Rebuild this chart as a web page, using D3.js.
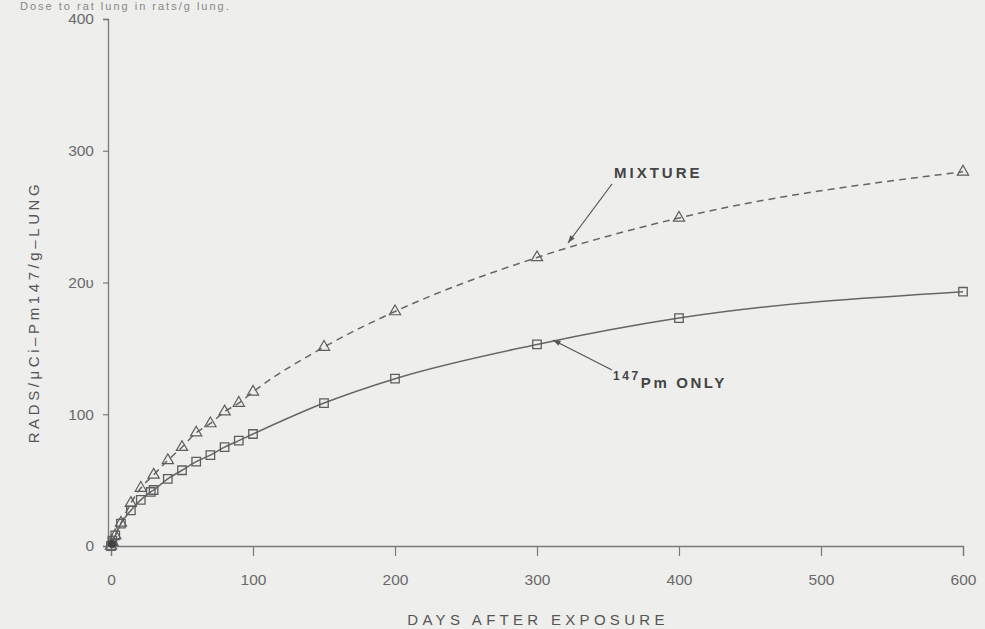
<!DOCTYPE html>
<html>
<head>
<meta charset="utf-8">
<script src="https://cdn.jsdelivr.net/npm/d3@7"></script>
<style>
  html, body { margin: 0; padding: 0; background: #eeeeec; }
  svg { display: block; }
  text { font-family: "Liberation Sans", Arial, sans-serif; }
</style>
</head>
<body>
<svg id="chart" width="985" height="629"></svg>
<script>
// ---- data ----
const xTicks = [0, 100, 200, 300, 400, 500, 600];
const yTicks = [0, 100, 200, 300, 400];
const yTickLabels = ["0", "100", "20\u028B", "300", "400"];

const mixtureDays   = [0, 1, 3, 7, 14, 21, 30, 40, 50, 60, 70, 80, 90, 100, 150, 200, 300, 400, 600];
const mixtureValues = [0, 3, 8, 17.5, 32.5, 44, 54, 65, 75, 86, 93, 102, 108.5, 117, 151, 178, 219, 249, 284];

const pmDays   = [0, 1, 3, 7, 14, 21, 28, 30, 40, 50, 60, 70, 80, 90, 100, 150, 200, 300, 400, 600];
const pmValues = [0, 4, 8, 17, 27, 35, 41, 42.5, 51, 57.5, 64, 69, 75, 80, 85, 108.5, 127, 153, 173, 193];

const xTitle = "DAYS AFTER EXPOSURE";
const yTitle = "RADS/\u03BCCi\u2013Pm147/g\u2013LUNG";
const topText = "Dose to rat lung in rats/g lung.";

// ---- drawing ----
const svg = d3.select("#chart");
const ink = "#5e5e5e";
const axisInk = "#7a7a7a";

const x = d3.scaleLinear().domain([0, 600]).range([111, 963]);
const y = d3.scaleLinear().domain([0, 400]).range([546, 19]);

// caption at top (mostly off-frame in the reference)
svg.append("text")
  .attr("x", 20).attr("y", 10)
  .attr("font-size", 11).attr("fill", "#888")
  .attr("letter-spacing", 2)
  .text(topText);

const tickFont = "'Liberation Sans Narrow', 'DejaVu Sans Condensed', sans-serif";

// x axis
const gx = svg.append("g").attr("transform", `translate(0,${y(0)})`)
  .call(d3.axisBottom(x).tickValues(xTicks).tickSize(10).tickPadding(18).tickFormat(d3.format("d")));
gx.select(".domain").attr("stroke", axisInk).attr("stroke-width", 1.3);
gx.selectAll(".tick line").attr("stroke", axisInk).attr("stroke-width", 1.2);
gx.selectAll(".tick text").attr("fill", "#6a6a6a").attr("font-size", 15.5)
  .attr("font-family", tickFont);

// y axis
const gy = svg.append("g").attr("transform", `translate(${x(0) - 3},0)`)
  .call(d3.axisLeft(y).tickValues(yTicks).tickSize(5).tickPadding(9)
    .tickFormat((d, i) => yTickLabels[i]));
gy.select(".domain").attr("stroke", axisInk).attr("stroke-width", 1.3);
gy.selectAll(".tick line").attr("stroke", axisInk).attr("stroke-width", 1.2);
gy.selectAll(".tick text").attr("fill", "#6a6a6a").attr("font-size", 15.5)
  .attr("font-family", tickFont);

// axis titles
svg.append("text")
  .attr("x", 538).attr("y", 625)
  .attr("text-anchor", "middle")
  .attr("font-size", 15).attr("letter-spacing", 4.3)
  .attr("fill", "#555")
  .text(xTitle);

svg.append("text")
  .attr("transform", "translate(39,312) rotate(-90)")
  .attr("text-anchor", "middle")
  .attr("font-size", 15).attr("letter-spacing", 3.6)
  .attr("fill", "#555")
  .text(yTitle);

// lines
const line = d3.line().curve(d3.curveMonotoneX).x(d => x(d[0])).y(d => y(d[1]));
const mixData = mixtureDays.map((d, i) => [d, mixtureValues[i]]);
const pmData = pmDays.map((d, i) => [d, pmValues[i]]);

svg.append("path").datum(mixData)
  .attr("d", line).attr("fill", "none")
  .attr("stroke", "#666").attr("stroke-width", 1.5)
  .attr("stroke-dasharray", "7,5");

svg.append("path").datum(pmData)
  .attr("d", line).attr("fill", "none")
  .attr("stroke", "#666").attr("stroke-width", 1.5);

// markers
svg.selectAll(".sq").data(pmData).enter().append("path")
  .attr("class", "sq")
  .attr("transform", d => `translate(${x(d[0])},${y(d[1])})`)
  .attr("d", d3.symbol(d3.symbolSquare, 72))
  .attr("fill", "none").attr("stroke", ink).attr("stroke-width", 1.3);

svg.selectAll(".tri").data(mixData).enter().append("path")
  .attr("class", "tri")
  .attr("transform", d => `translate(${x(d[0])},${y(d[1])})`)
  .attr("d", d3.symbol(d3.symbolTriangle, 55))
  .attr("fill", "none").attr("stroke", ink).attr("stroke-width", 1.2);

// origin dark blob
svg.append("circle").attr("cx", x(0) + 1).attr("cy", y(0) - 2).attr("r", 4).attr("fill", "#444");

// annotations
function arrow(x1, y1, x2, y2) {
  svg.append("line").attr("x1", x1).attr("y1", y1).attr("x2", x2).attr("y2", y2)
    .attr("stroke", "#555").attr("stroke-width", 1.2);
  const a = Math.atan2(y2 - y1, x2 - x1);
  const L = 8, w = 0.35;
  const p = [[x2, y2],
    [x2 - L * Math.cos(a - w), y2 - L * Math.sin(a - w)],
    [x2 - L * Math.cos(a + w), y2 - L * Math.sin(a + w)]];
  svg.append("path").attr("d", d3.line()(p) + "Z").attr("fill", "#555");
}

svg.append("text").attr("x", 614).attr("y", 178)
  .attr("font-size", 15).attr("letter-spacing", 3).attr("fill", "#444")
  .attr("font-weight", "bold")
  .text("MIXTURE");
arrow(612, 184, 568, 243);

const t2 = svg.append("text").attr("x", 613).attr("y", 388)
  .attr("font-size", 15).attr("letter-spacing", 2.6).attr("fill", "#444")
  .attr("font-weight", "bold");
t2.append("tspan").attr("font-size", 12).attr("dy", -8).text("147");
t2.append("tspan").attr("dy", 8).text("Pm ONLY");
arrow(612, 370, 553, 340);
</script>
</body>
</html>
